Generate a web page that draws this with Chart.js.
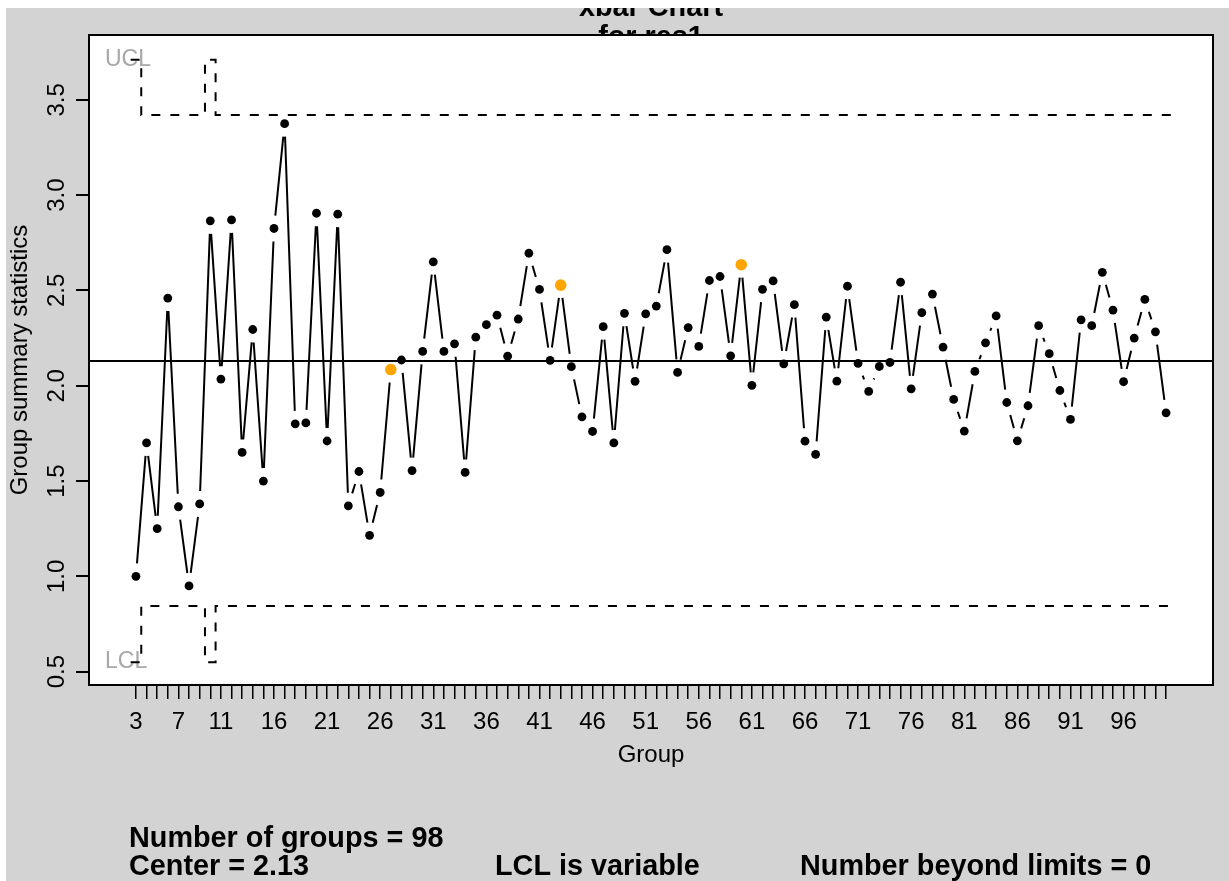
<!DOCTYPE html>
<html>
<head>
<meta charset="utf-8">
<script src="https://cdn.jsdelivr.net/npm/chart.js@4.4.1/dist/chart.umd.min.js"></script>
<style>
    html, body { margin: 0; padding: 0; background: #ffffff; }
    canvas { display: block; }
</style>
</head>
<body>
<canvas id="xbar-chart" width="1229" height="881"></canvas>
<script>
// group means for res1, groups 3..100
const firstGroup = 3;
const groupMeans = [
    1.00, 1.70, 1.25, 2.46, 1.365, 0.95, 1.38, 2.865, 2.035, 2.87,
    1.65, 2.295, 1.50, 2.825, 3.375, 1.80, 1.805, 2.905, 1.71, 2.90,
    1.37, 1.55, 1.215, 1.44, 2.085, 2.135, 1.555, 2.18, 2.65, 2.18,
    2.22, 1.545, 2.255, 2.32, 2.37, 2.155, 2.35, 2.695, 2.505, 2.133,
    2.528, 2.10, 1.837, 1.76, 2.31, 1.70, 2.38, 2.023, 2.377, 2.418,
    2.714, 2.07, 2.305, 2.206, 2.552, 2.573, 2.157, 2.635, 2.002, 2.506,
    2.55, 2.115, 2.425, 1.709, 1.64, 2.36, 2.024, 2.522, 2.117, 1.97,
    2.101, 2.122, 2.543, 1.984, 2.383, 2.481, 2.203, 1.928, 1.762, 2.075,
    2.225, 2.367, 1.912, 1.711, 1.895, 2.315, 2.168, 1.975, 1.823, 2.346,
    2.315, 2.595, 2.397, 2.021, 2.25, 2.453, 2.283, 1.858
];
const groups = groupMeans.map((_, i) => firstGroup + i);

// points flagged by the runs rule
const violatingGroups = [27, 43, 60];

// control limits (groups with smaller samples get the wider limits)
const center = 2.13;
const uclNormal = 3.42;
const lclNormal = 0.845;
const uclWide = 3.71;
const lclWide = 0.55;
const wideGroups = [3, 10];

const xTickLabels = [3, 7, 11, 16, 21, 26, 31, 36, 41, 46, 51, 56, 61, 66, 71, 76, 81, 86, 91, 96];
const yTickValues = [0.5, 1.0, 1.5, 2.0, 2.5, 3.0, 3.5];
const yTickLabels = ['0.5', '1.0', '1.5', '2.0', '2.5', '3.0', '3.5'];

const statsLines = [
    [{text: 'Number of groups = 98', x: 129}],
    [{text: 'Center = 2.13', x: 129}, {text: 'LCL is variable', x: 495}, {text: 'Number beyond limits = 0', x: 800}]
];

const FONT = "'Liberation Sans', Arial, Helvetica, sans-serif";

// step lines run from group - 0.5 to group + 0.5
function limitSteps(normal, wide) {
    const pts = groups.map(g => ({x: g - 0.5, y: wideGroups.includes(g) ? wide : normal}));
    const last = groups[groups.length - 1];
    pts.push({x: last + 0.5, y: wideGroups.includes(last) ? wide : normal});
    return pts;
}

const xMin = firstGroup - 4.42;
const xMax = groups[groups.length - 1] + 4.42;

const GAP = 13;

// R style "b" line: segments stop short of each point
const gappedLine = {
    id: 'gappedLine',
    beforeDatasetDraw(chart, args) {
        if (args.index !== 3) return;
        const ctx = chart.ctx;
        const area = chart.chartArea;
        const pts = args.meta.data;
        ctx.save();
        ctx.beginPath();
        ctx.rect(area.left, area.top, area.right - area.left, area.bottom - area.top);
        ctx.clip();
        ctx.strokeStyle = '#000000';
        ctx.lineWidth = 2;
        ctx.beginPath();
        for (let i = 1; i < pts.length; i++) {
            const a = pts[i - 1], b = pts[i];
            const dx = b.x - a.x, dy = b.y - a.y;
            const d = Math.sqrt(dx * dx + dy * dy);
            if (d <= 2 * GAP) continue;
            const ux = dx / d, uy = dy / d;
            ctx.moveTo(a.x + ux * GAP, a.y + uy * GAP);
            ctx.lineTo(b.x - ux * GAP, b.y - uy * GAP);
        }
        ctx.stroke();
        ctx.restore();
    }
};

const qccFrame = {
    id: 'qccFrame',
    beforeDraw(chart) {
        const ctx = chart.ctx;
        const area = chart.chartArea;
        ctx.save();
        ctx.fillStyle = '#ffffff';
        ctx.fillRect(0, 0, chart.width, chart.height);
        ctx.fillStyle = '#d3d3d3';
        ctx.fillRect(6, 8, chart.width - 6, chart.height - 8);

        // title sits partly under the plot region
        ctx.beginPath();
        ctx.rect(6, 8, chart.width - 6, chart.height - 8);
        ctx.clip();
        ctx.fillStyle = '#000000';
        ctx.font = 'bold 28.8px ' + FONT;
        ctx.textAlign = 'center';
        ctx.textBaseline = 'alphabetic';
        const cx = (area.left + area.right) / 2;
        ctx.fillText('xbar Chart', cx, 16);
        ctx.fillText('for res1', cx, 46);
        ctx.restore();

        ctx.save();
        ctx.fillStyle = '#ffffff';
        ctx.fillRect(area.left, area.top, area.right - area.left, area.bottom - area.top);
        ctx.restore();
    },
    beforeDatasetsDraw(chart) {
        const ctx = chart.ctx;
        const y = chart.scales.y;
        const left = chart.chartArea.left;
        ctx.save();
        ctx.fillStyle = '#a8a8a8';
        ctx.font = '23px ' + FONT;
        ctx.textAlign = 'left';
        ctx.textBaseline = 'middle';
        const g0 = groups[0];
        ctx.fillText('UCL', left + 16, y.getPixelForValue(wideGroups.includes(g0) ? uclWide : uclNormal));
        ctx.fillText('LCL', left + 16, y.getPixelForValue(wideGroups.includes(g0) ? lclWide : lclNormal));
        ctx.restore();
    },
    afterDraw(chart) {
        const ctx = chart.ctx;
        const area = chart.chartArea;
        const y = chart.scales.y;
        ctx.save();
        ctx.strokeStyle = '#000000';
        ctx.lineWidth = 2;
        ctx.strokeRect(area.left, area.top, area.right - area.left, area.bottom - area.top);

        // rotated y tick labels
        ctx.fillStyle = '#000000';
        ctx.font = '24px ' + FONT;
        ctx.textAlign = 'center';
        ctx.textBaseline = 'middle';
        yTickValues.forEach((v, i) => {
            ctx.save();
            ctx.translate(57, y.getPixelForValue(v));
            ctx.rotate(-Math.PI / 2);
            ctx.fillText(yTickLabels[i], 0, 0);
            ctx.restore();
        });

        ctx.font = 'bold 28.8px ' + FONT;
        ctx.textAlign = 'left';
        ctx.textBaseline = 'alphabetic';
        statsLines.forEach((line, row) => {
            line.forEach(item => ctx.fillText(item.text, item.x, 847 + row * 27.5));
        });
        ctx.restore();
    }
};

const ctx = document.getElementById('xbar-chart').getContext('2d');
window.xbarChart = new Chart(ctx, {
    type: 'line',
    data: {
        datasets: [
            {
                label: 'UCL',
                data: limitSteps(uclNormal, uclWide),
                stepped: true,
                borderColor: '#000000',
                borderWidth: 2,
                borderDash: [9, 10],
                pointRadius: 0,
                fill: false
            },
            {
                label: 'LCL',
                data: limitSteps(lclNormal, lclWide),
                stepped: true,
                borderColor: '#000000',
                borderWidth: 2,
                borderDash: [9, 10],
                pointRadius: 0,
                fill: false
            },
            {
                label: 'Center',
                data: [{x: xMin, y: center}, {x: xMax, y: center}],
                borderColor: '#000000',
                borderWidth: 2,
                pointRadius: 0,
                fill: false
            },
            {
                label: 'Group means',
                data: groups.map((g, i) => ({x: g, y: groupMeans[i]})),
                showLine: false,
                pointRadius: groups.map(g => violatingGroups.includes(g) ? 5.8 : 4.4),
                pointBackgroundColor: groups.map(g => violatingGroups.includes(g) ? '#ffa500' : '#000000'),
                pointBorderWidth: 0,
                pointHoverRadius: 5
            }
        ]
    },
    options: {
        responsive: false,
        devicePixelRatio: 1,
        animation: false,
        layout: {
            padding: {left: 0, top: 35, right: 16, bottom: 0}
        },
        plugins: {
            legend: {display: false},
            title: {display: false},
            tooltip: {enabled: false}
        },
        scales: {
            x: {
                type: 'linear',
                min: xMin,
                max: xMax,
                afterBuildTicks: scale => {
                    scale.ticks = groups.map(g => ({value: g}));
                },
                afterFit: scale => {
                    scale.height = 196;
                },
                grid: {
                    drawOnChartArea: false,
                    color: '#000000',
                    lineWidth: 1.5,
                    tickLength: 14
                },
                border: {display: false},
                ticks: {
                    autoSkip: false,
                    maxRotation: 0,
                    minRotation: 0,
                    padding: 8.6,
                    color: '#000000',
                    font: {family: FONT, size: 24},
                    callback: value => xTickLabels.includes(value) ? String(value) : ''
                },
                title: {
                    display: true,
                    text: 'Group',
                    color: '#000000',
                    font: {family: FONT, size: 24},
                    padding: {top: 0, bottom: 111.6}
                }
            },
            y: {
                min: 0.43,
                max: 3.84,
                afterBuildTicks: scale => {
                    scale.ticks = yTickValues.map(v => ({value: v}));
                },
                afterFit: scale => {
                    scale.width = 89;
                },
                grid: {
                    drawOnChartArea: false,
                    color: '#000000',
                    lineWidth: 2,
                    tickLength: 13
                },
                border: {display: false},
                ticks: {display: false},
                title: {
                    display: true,
                    text: 'Group summary statistics',
                    color: '#000000',
                    font: {family: FONT, size: 24},
                    padding: {top: 5.6, bottom: 0}
                }
            }
        }
    },
    plugins: [qccFrame, gappedLine]
});
</script>
</body>
</html>
